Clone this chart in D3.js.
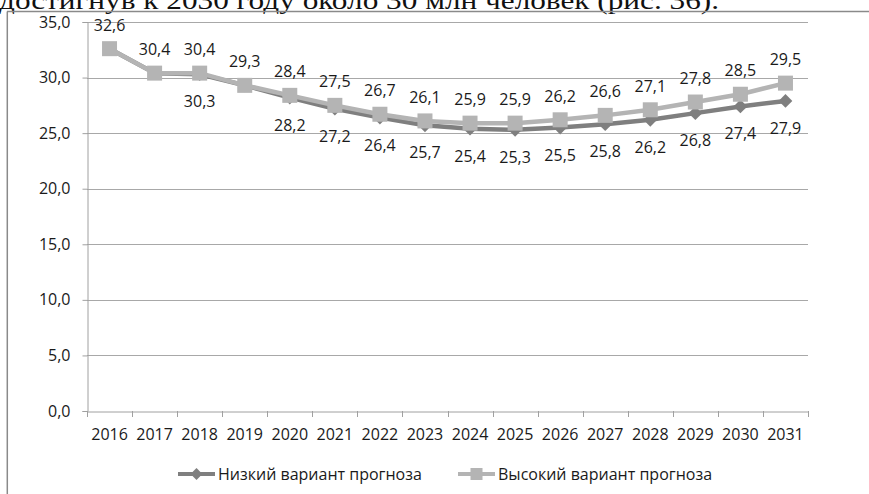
<!DOCTYPE html>
<html>
<head>
<meta charset="utf-8">
<script src="https://cdn.jsdelivr.net/npm/d3@7"></script>
<style>
  html, body { margin: 0; padding: 0; background: #fff; }
  svg { display: block; }
</style>
</head>
<body>
<svg id="chart" width="869" height="494"></svg>
<script>
const years = ["2016","2017","2018","2019","2020","2021","2022","2023","2024","2025","2026","2027","2028","2029","2030","2031"];
const lowValues  = [32.6, 30.4, 30.3, 29.3, 28.2, 27.2, 26.4, 25.7, 25.4, 25.3, 25.5, 25.8, 26.2, 26.8, 27.4, 27.9];
const highValues = [32.6, 30.4, 30.4, 29.3, 28.4, 27.5, 26.7, 26.1, 25.9, 25.9, 26.2, 26.6, 27.1, 27.8, 28.5, 29.5];
// which low-series labels are shown (the others are hidden behind the high series)
const lowLabelShown = [false, false, true, false, true, true, true, true, true, true, true, true, true, true, true, true];
const yTicks = [0, 5, 10, 15, 20, 25, 30, 35];
const seriesNames = ["Низкий вариант прогноза", "Высокий вариант прогноза"];
const headerText = "достигнув  к 2030 году около 30 млн человек (рис. 36).";

const svg = d3.select("#chart");
const fmt = v => v.toFixed(1).replace(".", ",");
const lowColor = "#7f7f7f", highColor = "#b4b4b4";
const labelFont = "'Open Sans', sans-serif";

// header text (cropped document line)
svg.append("text").attr("x", -1).attr("y", 9)
  .attr("font-family", "'Liberation Serif', serif").attr("font-size", 26)
  .attr("fill", "#111").attr("textLength", 720).attr("lengthAdjust", "spacingAndGlyphs")
  .text(headerText);

// outer frame lines
svg.append("line").attr("x1", 7).attr("x2", 869).attr("y1", 11.5).attr("y2", 11.5)
  .attr("stroke", "#8a8a8a").attr("stroke-width", 1.5);
svg.append("line").attr("x1", 7.3).attr("x2", 7.3).attr("y1", 11.5).attr("y2", 494)
  .attr("stroke", "#8a8a8a").attr("stroke-width", 1.5);

const x = d3.scaleBand().domain(years).range([87, 808]).padding(0);
const cx = d => x(d) + x.bandwidth() / 2;
const y = d3.scaleLinear().domain([0, 35]).range([411, 22]);

// gridlines
svg.append("g").selectAll("line").data(yTicks.filter(t => t > 0)).join("line")
  .attr("x1", 87).attr("x2", 808)
  .attr("y1", d => Math.round(y(d)) + 0.5).attr("y2", d => Math.round(y(d)) + 0.5)
  .attr("stroke", "#a8a8a8").attr("stroke-width", 1);

// y axis
const yAxis = svg.append("g").attr("transform", "translate(87.5,0)")
  .call(d3.axisLeft(y).tickValues(yTicks).tickFormat(fmt).tickSize(5).tickPadding(12));
yAxis.select(".domain").attr("stroke", "#a0a0a0");
yAxis.selectAll(".tick line").attr("stroke", "#a0a0a0");
yAxis.selectAll(".tick text").attr("font-family", labelFont).attr("font-size", 16).attr("fill", "#1a1a1a");

// x axis (labels at centers, ticks at band boundaries)
const xAxis = svg.append("g").attr("transform", "translate(0,411.5)")
  .call(d3.axisBottom(x).tickSize(0).tickPadding(17));
xAxis.select(".domain").attr("stroke", "#a0a0a0");
xAxis.selectAll(".tick text").attr("font-family", labelFont).attr("font-size", 16).attr("fill", "#1a1a1a");
const bounds = years.map(d => x(d)).concat([x(years[years.length - 1]) + x.bandwidth()]);
svg.append("g").selectAll("line").data(bounds).join("line")
  .attr("x1", d => Math.round(d) + 0.5).attr("x2", d => Math.round(d) + 0.5)
  .attr("y1", 411).attr("y2", 417).attr("stroke", "#a0a0a0");

// lines
const line = d3.line().x((d, i) => cx(years[i])).y(d => y(d));
svg.append("path").datum(lowValues).attr("d", line).attr("fill", "none")
  .attr("stroke", lowColor).attr("stroke-width", 4.5).attr("stroke-linejoin", "round");
svg.append("path").datum(highValues).attr("d", line).attr("fill", "none")
  .attr("stroke", highColor).attr("stroke-width", 4.5).attr("stroke-linejoin", "round");

// markers
const diamond = d3.symbol().type(d3.symbolDiamond2).size(120);
svg.append("g").selectAll("path").data(lowValues).join("path")
  .attr("d", diamond).attr("transform", (d, i) => `translate(${cx(years[i])},${y(d)})`)
  .attr("fill", lowColor);
svg.append("g").selectAll("rect").data(highValues).join("rect")
  .attr("x", (d, i) => cx(years[i]) - 7.5).attr("y", d => y(d) - 7.5)
  .attr("width", 15).attr("height", 15).attr("fill", highColor);

// labels
svg.append("g").selectAll("text").data(highValues).join("text")
  .attr("x", (d, i) => cx(years[i])).attr("y", d => y(d) - 18)
  .attr("text-anchor", "middle").attr("font-family", labelFont).attr("font-size", 16)
  .attr("fill", "#1a1a1a").text(fmt);
svg.append("g").selectAll("text").data(lowValues.map((v, i) => ({v, i})).filter(d => lowLabelShown[d.i])).join("text")
  .attr("x", d => cx(years[d.i])).attr("y", d => y(d.v) + 33)
  .attr("text-anchor", "middle").attr("font-family", labelFont).attr("font-size", 16)
  .attr("fill", "#1a1a1a").text(d => fmt(d.v));

// legend
const legend = [
  {name: seriesNames[0], color: lowColor, type: "diamond", x0: 178},
  {name: seriesNames[1], color: highColor, type: "square", x0: 458}
];
const ly = 474;
legend.forEach(l => {
  const g = svg.append("g");
  g.append("line").attr("x1", l.x0).attr("x2", l.x0 + 37).attr("y1", ly).attr("y2", ly)
    .attr("stroke", l.color).attr("stroke-width", 4);
  if (l.type === "diamond") {
    g.append("path").attr("d", d3.symbol().type(d3.symbolDiamond2).size(90)())
      .attr("transform", `translate(${l.x0 + 18.5},${ly})`).attr("fill", l.color);
  } else {
    g.append("rect").attr("x", l.x0 + 12.5).attr("y", ly - 6).attr("width", 12).attr("height", 12).attr("fill", l.color);
  }
  g.append("text").attr("x", l.x0 + 40).attr("y", ly + 5.5)
    .attr("font-family", labelFont).attr("font-size", 16).attr("fill", "#1a1a1a").text(l.name);
});
</script>
</body>
</html>
